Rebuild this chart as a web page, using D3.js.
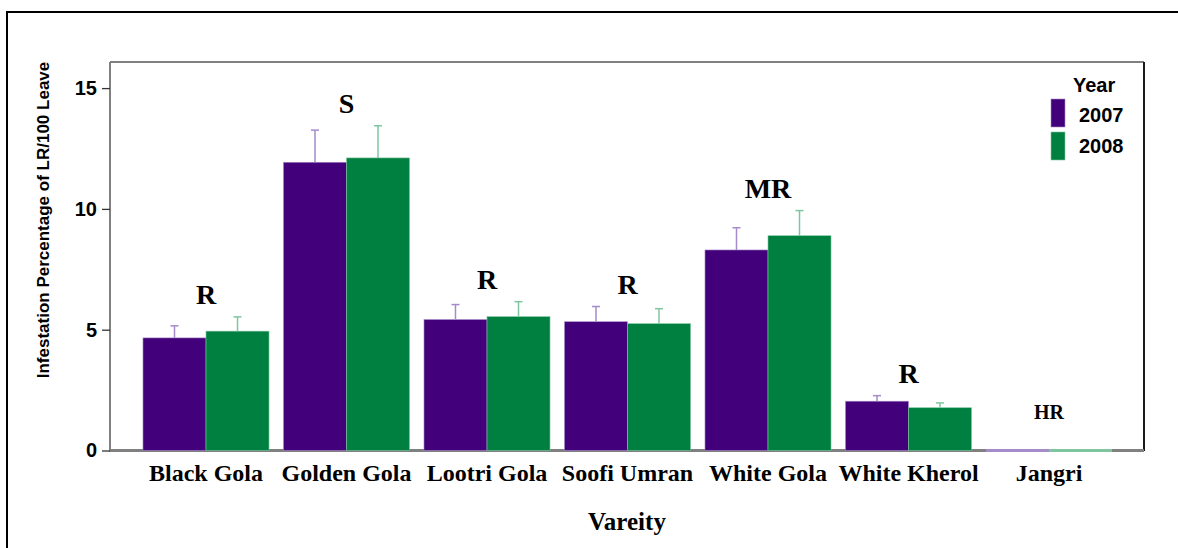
<!DOCTYPE html>
<html>
<head>
<meta charset="utf-8">
<script src="https://cdn.jsdelivr.net/npm/d3@7"></script>
<style>
  html, body { margin: 0; padding: 0; background: #fff; }
  svg { display: block; }
</style>
</head>
<body>
<svg id="chart" width="1178" height="548"></svg>
<script>
// ---- data ----
const varieties = ["Black Gola", "Golden Gola", "Lootri Gola", "Soofi Umran", "White Gola", "White Kherol", "Jangri"];
const years = ["2007", "2008"];
const values2007 = [4.66, 11.93, 5.42, 5.33, 8.30, 2.04, 0];
const values2008 = [4.94, 12.11, 5.54, 5.25, 8.89, 1.77, 0];
const errTop2007 = [5.16, 13.26, 6.04, 5.96, 9.22, 2.27, 0];
const errTop2008 = [5.53, 13.44, 6.16, 5.87, 9.93, 1.97, 0];
const ratings = ["R", "S", "R", "R", "MR", "R", "HR"];
const yTicks = [0, 5, 10, 15];

const colors = { "2007": "#42007a", "2008": "#008040" };
const lightColors = { "2007": "#a58bc9", "2008": "#7fc6a0" };

const svg = d3.select("#chart");
const W = 1178, H = 548;

// outer border (only top and left visible)
svg.append("rect").attr("x", 7).attr("y", 12).attr("width", 1200).attr("height", 600)
  .attr("fill", "none").attr("stroke", "#000").attr("stroke-width", 2);

const plot = { left: 110, top: 62, right: 1144, bottom: 451 };

const y = d3.scaleLinear().domain([0, 16.08]).range([450.5, plot.top]);
const x = d3.scaleBand().domain(varieties).range([135.75, 1119.25]).paddingInner(0.103).paddingOuter(0.0515);
const xs = d3.scaleBand().domain(years).range([0, x.bandwidth()]);

// plot frame: top + left gray, right dark
svg.append("line").attr("x1", plot.left).attr("x2", plot.right).attr("y1", plot.top).attr("y2", plot.top)
  .attr("stroke", "#808080").attr("stroke-width", 2);
svg.append("line").attr("x1", plot.right).attr("x2", plot.right).attr("y1", plot.top).attr("y2", plot.bottom)
  .attr("stroke", "#1a1a1a").attr("stroke-width", 2);

const series = years.map((yr, i) => ({
  year: yr,
  vals: i === 0 ? values2007 : values2008,
  errs: i === 0 ? errTop2007 : errTop2008
}));

const g = svg.append("g");
series.forEach(s => {
  const gs = g.append("g");
  varieties.forEach((v, i) => {
    const bx = x(v) + xs(s.year);
    const bw = xs.bandwidth();
    const val = s.vals[i];
    if (val > 0) {
      gs.append("rect").attr("x", bx).attr("y", y(val)).attr("width", bw).attr("height", y(0) - y(val))
        .attr("fill", colors[s.year]).attr("stroke", lightColors[s.year]).attr("stroke-width", 0.6);
      const cx = bx + bw / 2;
      gs.append("line").attr("x1", cx).attr("x2", cx).attr("y1", y(val)).attr("y2", y(s.errs[i]))
        .attr("stroke", lightColors[s.year]).attr("stroke-width", 1.5);
      gs.append("line").attr("x1", cx - 4).attr("x2", cx + 4).attr("y1", y(s.errs[i])).attr("y2", y(s.errs[i]))
        .attr("stroke", lightColors[s.year]).attr("stroke-width", 1.5);
    } else {
      gs.append("line").attr("x1", bx).attr("x2", bx + bw).attr("y1", y(0)).attr("y2", y(0))
        .attr("stroke", lightColors[s.year]).attr("stroke-width", 3).attr("data-zero", 1);
    }
  });
});

// x axis line (gray) – drawn under zero-value lines
svg.insert("line", "g").attr("x1", plot.left).attr("x2", plot.right).attr("y1", 450.5).attr("y2", 450.5)
  .attr("stroke", "#808080").attr("stroke-width", 3);

// left axis line
svg.append("line").attr("x1", plot.left).attr("x2", plot.left).attr("y1", plot.top).attr("y2", 452)
  .attr("stroke", "#808080").attr("stroke-width", 2);

// y axis
const yAxis = d3.axisLeft(y).tickValues(yTicks).tickSize(8).tickPadding(5).tickFormat(d3.format("d"));
const ya = svg.append("g").attr("transform", `translate(${plot.left},0)`).call(yAxis);
ya.select(".domain").remove();
ya.selectAll(".tick line").attr("stroke", "#333").attr("stroke-width", 1.3);
ya.selectAll(".tick text").attr("font-family", "Arial, 'Liberation Sans', sans-serif")
  .attr("font-weight", "bold").attr("font-size", 20).attr("fill", "#000");

// x axis labels
const xAxis = d3.axisBottom(x).tickSize(0).tickPadding(13);
const xa = svg.append("g").attr("transform", `translate(0,451)`).call(xAxis);
xa.select(".domain").remove();
xa.selectAll(".tick text").attr("font-family", "'Times New Roman', 'Liberation Serif', serif")
  .attr("font-weight", "bold").attr("font-size", 24).attr("fill", "#000").attr("dy", "0.71em");

// rating labels
varieties.forEach((v, i) => {
  const top = Math.max(errTop2007[i], errTop2008[i]);
  const isHR = ratings[i] === "HR";
  svg.append("text")
    .attr("x", x(v) + x.bandwidth() / 2)
    .attr("y", isHR ? 419 : y(top) - 13)
    .attr("text-anchor", "middle")
    .attr("font-family", "'Times New Roman', 'Liberation Serif', serif")
    .attr("font-weight", "bold")
    .attr("font-size", isHR ? 20 : 28)
    .text(ratings[i]);
});

// axis titles
svg.append("text").attr("x", 627).attr("y", 530).attr("text-anchor", "middle")
  .attr("font-family", "'Times New Roman', 'Liberation Serif', serif").attr("font-weight", "bold")
  .attr("font-size", 25).text("Vareity");

svg.append("text").attr("transform", "translate(49,220) rotate(-90)").attr("text-anchor", "middle")
  .attr("font-family", "Arial, 'Liberation Sans', sans-serif").attr("font-weight", "bold")
  .attr("font-size", 17).text("Infestation Percentage of LR/100 Leave");

// legend
const lg = svg.append("g");
lg.append("text").attr("x", 1073).attr("y", 92)
  .attr("font-family", "Arial, 'Liberation Sans', sans-serif").attr("font-weight", "bold")
  .attr("font-size", 20).text("Year");
years.forEach((yr, i) => {
  lg.append("rect").attr("x", 1051).attr("y", 99 + i * 33).attr("width", 14).attr("height", 28)
    .attr("fill", colors[yr]).attr("stroke", lightColors[yr]).attr("stroke-width", 0.6);
  lg.append("text").attr("x", 1079).attr("y", 122 + i * 31)
    .attr("font-family", "Arial, 'Liberation Sans', sans-serif").attr("font-weight", "bold")
    .attr("font-size", 20).text(yr);
});
</script>
</body>
</html>
